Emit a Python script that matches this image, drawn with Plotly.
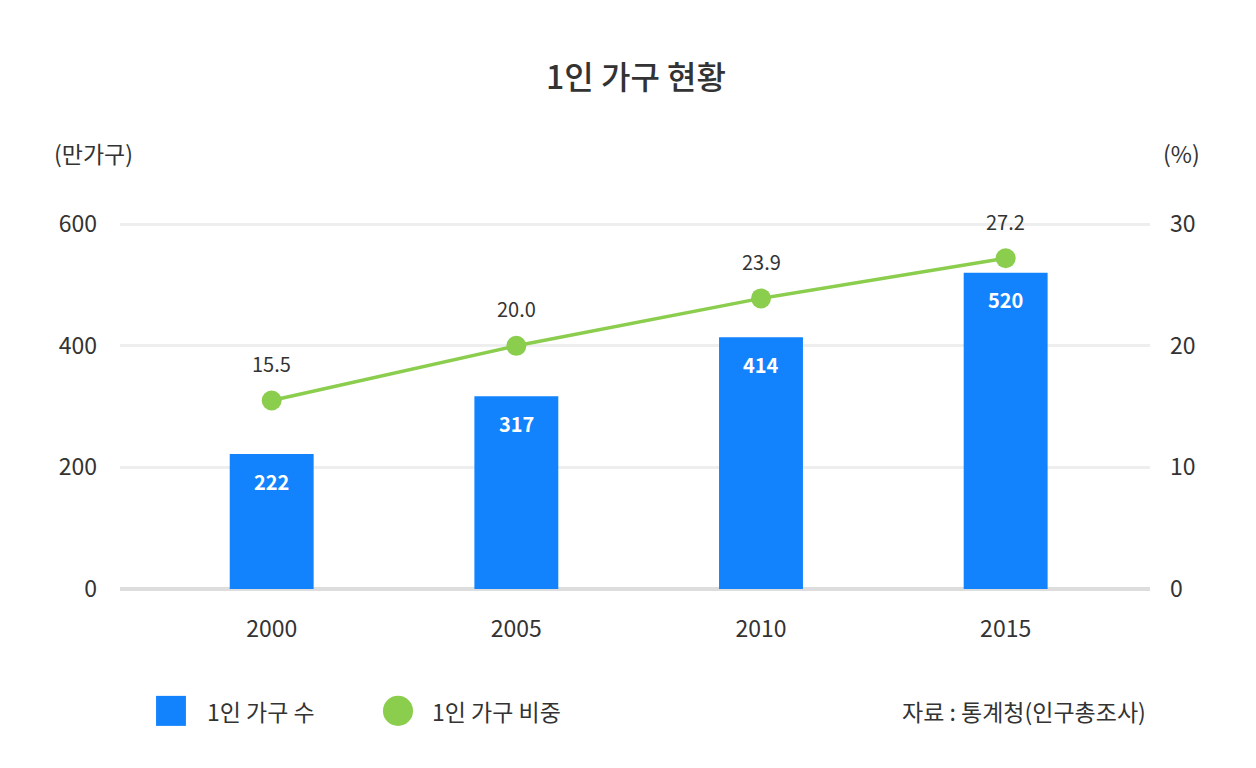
import plotly.graph_objects as go

# ── data ────────────────────────────────────────────────────────────────
years      = ["2000", "2005", "2010", "2015"]
households = [222, 317, 414, 520]        # 1인 가구 수 (만가구)
share      = [15.5, 20.0, 23.9, 27.2]    # 1인 가구 비중 (%)

BLUE  = "#1283FD"
GREEN = "#8BCD4D"
TEXT  = "#333333"
FONT  = "Noto Sans CJK KR"

fig = go.Figure()

fig.add_trace(go.Bar(
    x=years, y=households, name="1인 가구 수",
    marker=dict(color=BLUE, line_width=0), width=0.343,
    hoverinfo="x+y",
))

fig.add_trace(go.Scatter(
    x=years, y=share, name="1인 가구 비중", yaxis="y2",
    mode="lines+markers",
    line=dict(color=GREEN, width=3.5),
    marker=dict(color=GREEN, size=20),
    cliponaxis=False,
))

# value labels (category axis -> use the category index as x)
for i, v in enumerate(households):
    fig.add_annotation(x=i, y=v, text=f"<b>{v}</b>", showarrow=False,
                       yanchor="middle", yshift=-27,
                       font=dict(family=FONT, size=20, color="white"))
for i, v in enumerate(share):
    fig.add_annotation(x=i, y=v, yref="y2", text=f"{v:.1f}", showarrow=False,
                       yanchor="middle", yshift=37,
                       font=dict(family=FONT, size=20, color=TEXT))

# axis unit labels
fig.add_annotation(xref="paper", yref="paper", x=-0.066, y=1.191,
                   xanchor="left", yanchor="middle",
                   text="(만가구)", showarrow=False,
                   font=dict(family=FONT, size=23, color=TEXT))
fig.add_annotation(xref="paper", yref="paper", x=1.0505, y=1.191,
                   xanchor="right", yanchor="middle",
                   text="(%)", showarrow=False,
                   font=dict(family=FONT, size=23, color=TEXT))

# hand-drawn legend + source
fig.add_shape(type="rect", xref="paper", yref="paper",
              x0=0.035, x1=0.064, y0=-0.374, y1=-0.292,
              fillcolor=BLUE, line_width=0)
fig.add_shape(type="circle", xref="paper", yref="paper",
              x0=0.2553, x1=0.2845, y0=-0.374, y1=-0.292,
              fillcolor=GREEN, line_width=0)
for x, t in ((0.0825, "1인 가구 수"), (0.301, "1인 가구 비중")):
    fig.add_annotation(xref="paper", yref="paper", x=x, y=-0.333,
                       xanchor="left", yanchor="middle",
                       text=t, showarrow=False,
                       font=dict(family=FONT, size=23, color=TEXT))
fig.add_annotation(xref="paper", yref="paper", x=0.998, y=-0.333,
                   xanchor="right", yanchor="middle",
                   text="자료 : 통계청(인구총조사)", showarrow=False,
                   font=dict(family=FONT, size=23, color=TEXT))

fig.update_layout(
    width=1256, height=768,
    margin=dict(l=112, r=114, t=215, b=187),
    paper_bgcolor="white", plot_bgcolor="white",
    showlegend=False,
    font=dict(family=FONT, size=23, color=TEXT),
    title=dict(text="1인 가구 현황", x=0.5, xanchor="center",
               y=1 - 70 / 768, yanchor="middle",
               font=dict(family=FONT, size=32, color=TEXT, weight=500)),
    xaxis=dict(type="category", range=[-0.62, 3.59], showgrid=False,
               showline=False, ticks="", ticklabelstandoff=24,
               tickfont=dict(size=23, color=TEXT)),
    yaxis=dict(range=[0, 602], tickvals=[0, 200, 400, 600],
               showgrid=True, gridcolor="#EEEEEE", gridwidth=3,
               zeroline=True, zerolinecolor="#DDDDDD", zerolinewidth=4,
               showline=False, ticks="", ticklabelstandoff=22,
               tickfont=dict(size=23, color=TEXT)),
    yaxis2=dict(range=[0, 30.1], tickvals=[0, 10, 20, 30], overlaying="y",
                side="right", showgrid=False, zeroline=False, showline=False,
                ticks="", ticklabelstandoff=19,
                tickfont=dict(size=23, color=TEXT)),
)

fig.write_html("out.html")
